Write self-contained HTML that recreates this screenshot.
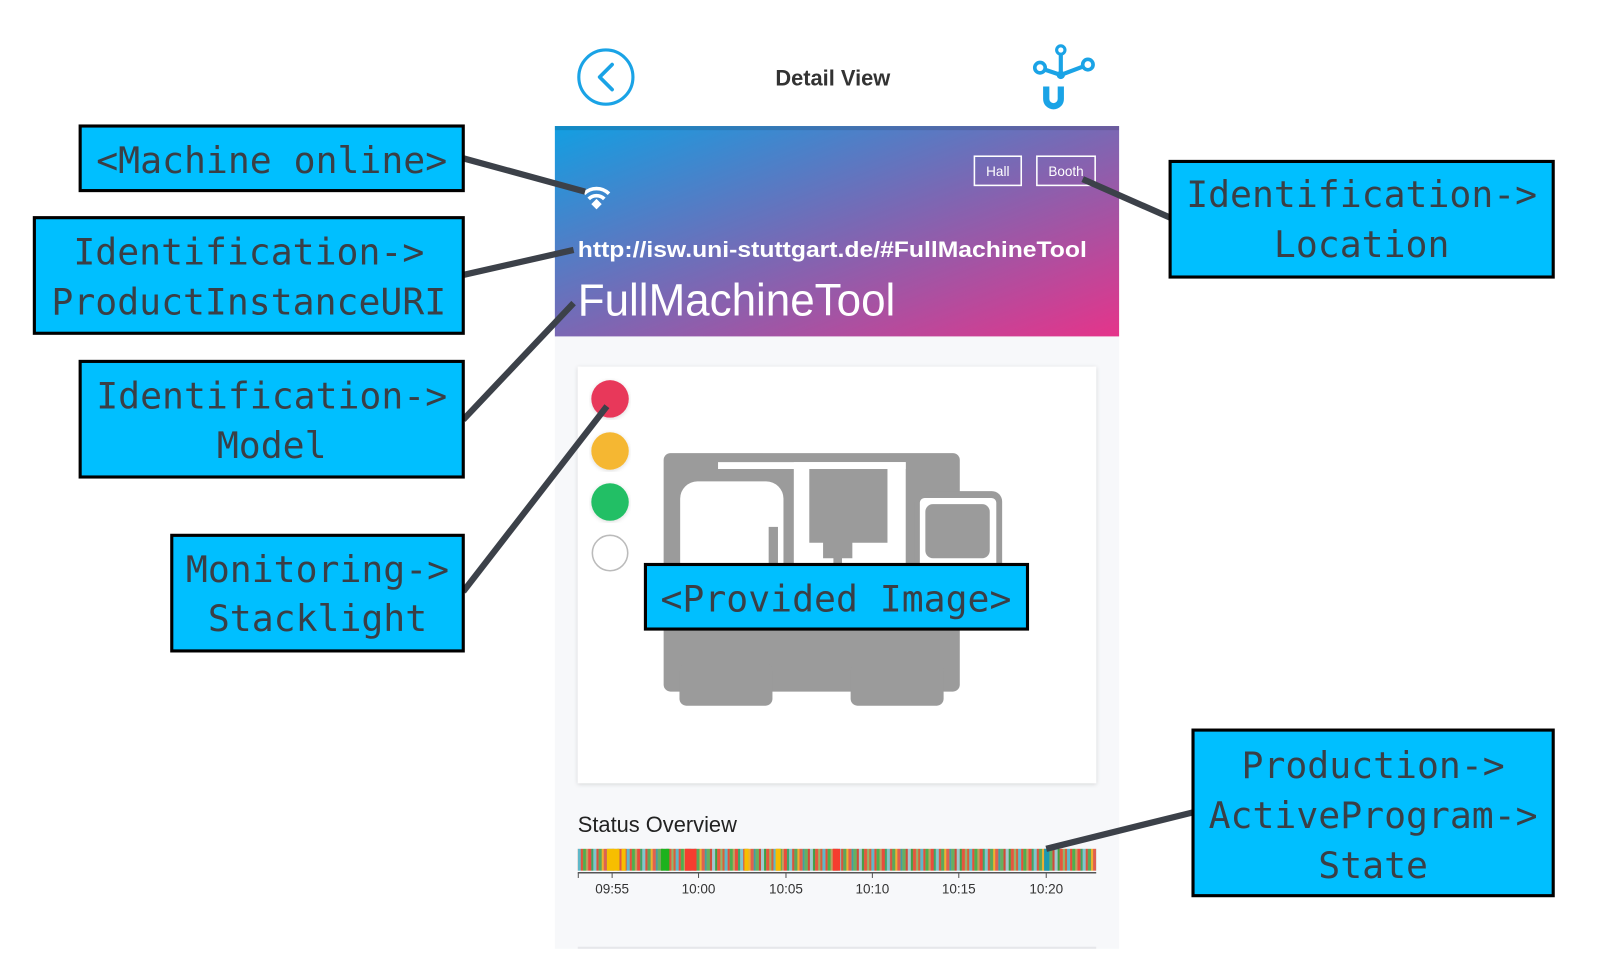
<!DOCTYPE html>
<html><head><meta charset="utf-8"><style>
html,body{margin:0;padding:0;background:#fff;width:1624px;height:954px;overflow:hidden}
svg{display:block}
.lb{font-family:"DejaVu Sans Mono","Liberation Mono",monospace;font-size:35px;fill:#3a3f46;text-anchor:middle}
.bx{fill:#00bfff;stroke:#000;stroke-width:3}
.cn{stroke:#3c4149;stroke-width:6;stroke-linecap:butt}
.ax{font-family:"Liberation Sans",sans-serif;font-size:13px;fill:#333;text-anchor:middle}
</style></head><body>
<svg width="1624" height="954" viewBox="0 0 1560 916" preserveAspectRatio="none">
<defs>
<linearGradient id="hg" x1="0" y1="0" x2="1" y2="1">
<stop offset="0" stop-color="#129fe2"/><stop offset="0.5" stop-color="#7a68b4"/><stop offset="1" stop-color="#e5348a"/>
</linearGradient>
<pattern id="st" x="555" y="0" width="47" height="30" patternUnits="userSpaceOnUse">
<rect width="47" height="30" fill="#e8a23a"/>
<rect x="0" width="3" height="30" fill="#5fb8c9"/><rect x="3" width="2" height="30" fill="#e74c3c"/>
<rect x="5" width="3" height="30" fill="#4caf50"/><rect x="8" width="2" height="30" fill="#c0a060"/>
<rect x="10" width="3" height="30" fill="#e84c3d"/><rect x="13" width="2" height="30" fill="#3aa66a"/>
<rect x="15" width="3" height="30" fill="#7fc5d0"/><rect x="18" width="2" height="30" fill="#d85040"/>
<rect x="20" width="3" height="30" fill="#5aa85c"/><rect x="23" width="2" height="30" fill="#f0b030"/>
<rect x="25" width="3" height="30" fill="#e06050"/><rect x="28" width="2" height="30" fill="#40a0a0"/>
<rect x="30" width="3" height="30" fill="#66b060"/><rect x="33" width="2" height="30" fill="#d04a3a"/>
<rect x="35" width="3" height="30" fill="#a0c8d0"/><rect x="38" width="2" height="30" fill="#38a048"/>
<rect x="40" width="3" height="30" fill="#e5563f"/><rect x="43" width="2" height="30" fill="#8fb870"/>
<rect x="45" width="2" height="30" fill="#d9603a"/>
</pattern>
<filter id="sh" x="-5%" y="-5%" width="110%" height="110%"><feDropShadow dx="0" dy="1" stdDeviation="2" flood-opacity="0.15"/></filter>
</defs>

<!-- top bar -->
<circle cx="582" cy="74" r="26" fill="none" stroke="#1aa3e6" stroke-width="3"/>
<polyline points="588,62 576,74 588,86" fill="none" stroke="#1aa3e6" stroke-width="3.5" stroke-linecap="round" stroke-linejoin="round"/>
<text x="800" y="82" font-family="Liberation Sans,sans-serif" font-weight="bold" font-size="21" fill="#333" text-anchor="middle">Detail View</text>
<g stroke="#1aa3e6" fill="none" stroke-width="4">
<line x1="1019" y1="72" x2="1019" y2="52"/><line x1="1019" y1="72" x2="1004" y2="67"/><line x1="1019" y1="72" x2="1040" y2="64"/>
<circle cx="1019" cy="48" r="4" stroke-width="3"/><circle cx="999" cy="65" r="5" stroke-width="3.5"/><circle cx="1045" cy="62" r="5" stroke-width="3.5"/>
<path d="M1005,83 V95 a7,7 0 0 0 14,0 V83" stroke-width="6"/>
</g>
<circle cx="1019" cy="72" r="4" fill="#1aa3e6"/>

<!-- body -->
<rect x="533" y="121" width="542" height="790" fill="#f7f8fa"/>
<rect x="533" y="121" width="542" height="202" fill="url(#hg)"/>
<rect x="533" y="121" width="542" height="4" fill="#000" opacity="0.12"/>
<rect x="936" y="150" width="45" height="28" fill="none" stroke="#fff" stroke-width="1.5"/>
<text x="958.5" y="169" font-family="Liberation Sans,sans-serif" font-size="13" fill="#fff" text-anchor="middle">Hall</text>
<rect x="996" y="150" width="56" height="28" fill="none" stroke="#fff" stroke-width="1.5"/>
<text x="1024" y="169" font-family="Liberation Sans,sans-serif" font-size="13" fill="#fff" text-anchor="middle">Booth</text>
<g fill="none" stroke="#fff" stroke-width="3.5">
<path d="M561,186 a17,17 0 0 1 24,0"/><path d="M565.5,191 a10.5,10.5 0 0 1 15,0"/>
</g>
<path d="M568,196 l5,-5 l5,5 l-5,5 z" fill="#fff"/>
<text x="555" y="247" font-family="Liberation Sans,sans-serif" font-weight="bold" font-size="21" fill="#fff" textLength="489" lengthAdjust="spacingAndGlyphs">http://isw.uni-stuttgart.de/#FullMachineTool</text>
<text x="555" y="303" font-family="Liberation Sans,sans-serif" font-size="44" fill="#fff" textLength="305" lengthAdjust="spacingAndGlyphs">FullMachineTool</text>

<rect x="555" y="352" width="498" height="400" fill="#fff" filter="url(#sh)"/>
<circle cx="586" cy="383" r="18" fill="#e8385a" filter="url(#sh)"/>
<circle cx="586" cy="433" r="18" fill="#f5b731" filter="url(#sh)"/>
<circle cx="586" cy="482" r="18" fill="#21bf65" filter="url(#sh)"/>
<circle cx="586" cy="531" r="17" fill="#fff" stroke="#bbb" stroke-width="1.5"/>

<g transform="translate(547.5,345.8) scale(0.3308)" fill="#9b9b9b">
<rect x="272" y="270" width="860" height="692" rx="20"/>
<rect x="318" y="880" width="270" height="123" rx="20"/>
<rect x="815" y="880" width="270" height="123" rx="20"/>
<rect x="1000" y="380" width="255" height="300" rx="30"/>
<rect x="1016" y="400" width="222" height="280" rx="14" fill="#fff"/>
<rect x="1032" y="418" width="187" height="157" rx="22"/>
<rect x="430" y="296" width="545" height="20" fill="#fff"/>
<rect x="650" y="296" width="325" height="320" fill="#fff"/>
<rect x="695" y="316" width="227" height="214"/>
<rect x="735" y="520" width="85" height="55"/>
<rect x="765" y="570" width="25" height="46"/>
<path d="M320,616 V402 a50,50 0 0 1 50,-50 H570 a50,50 0 0 1 50,50 V616 z" fill="#fff"/>
<rect x="577" y="484" width="27" height="132"/>
</g>

<text x="555" y="799" font-family="Liberation Sans,sans-serif" font-size="21" fill="#222">Status Overview</text>
<rect x="555" y="815" width="498" height="21" fill="url(#st)"/>
<rect x="583" y="815" width="12" height="21" fill="#f7be00"/>
<rect x="597" y="815" width="4" height="21" fill="#f7be00"/>
<rect x="635" y="815" width="8" height="21" fill="#1db31d"/>
<rect x="658" y="815" width="11" height="21" fill="#f53d2f"/>
<rect x="715" y="815" width="4" height="21" fill="#f7be00"/>
<rect x="745" y="815" width="5" height="21" fill="#f7be00"/>
<rect x="800" y="815" width="7" height="21" fill="#f53d2f"/>
<rect x="1003" y="815" width="5" height="21" fill="#1a9ab0"/>
<line x1="555" y1="838" x2="1053" y2="838" stroke="#555" stroke-width="1.5"/>
<g stroke="#555" stroke-width="1">
<line x1="555.5" y1="838" x2="555.5" y2="843"/><line x1="588" y1="838" x2="588" y2="843"/><line x1="671" y1="838" x2="671" y2="843"/><line x1="755" y1="838" x2="755" y2="843"/><line x1="838" y1="838" x2="838" y2="843"/><line x1="921" y1="838" x2="921" y2="843"/><line x1="1005" y1="838" x2="1005" y2="843"/>
</g>
<text class="ax" x="588" y="858">09:55</text><text class="ax" x="671" y="858">10:00</text><text class="ax" x="755" y="858">10:05</text>
<text class="ax" x="838" y="858">10:10</text><text class="ax" x="921" y="858">10:15</text><text class="ax" x="1005" y="858">10:20</text>
<rect x="555" y="909" width="498" height="2" fill="#e6e7ea"/>

<!-- connectors -->
<line class="cn" x1="445" y1="152" x2="562" y2="184"/>
<line class="cn" x1="445" y1="264" x2="551" y2="240"/>
<line class="cn" x1="445" y1="403" x2="551" y2="291"/>
<line class="cn" x1="445" y1="568" x2="583" y2="390"/>
<line class="cn" x1="1124" y1="209" x2="1040" y2="172"/>
<line class="cn" x1="1146" y1="780" x2="1005" y2="815"/>

<!-- labels -->
<rect class="bx" x="77" y="121" width="368" height="62"/>
<text class="lb" x="261" y="166">&lt;Machine online&gt;</text>
<rect class="bx" x="33" y="209" width="412" height="111"/>
<text class="lb" x="239" y="254">Identification-&gt;</text>
<text class="lb" x="239" y="302">ProductInstanceURI</text>
<rect class="bx" x="77" y="347" width="368" height="111"/>
<text class="lb" x="261" y="392">Identification-&gt;</text>
<text class="lb" x="261" y="440">Model</text>
<rect class="bx" x="165" y="514" width="280" height="111"/>
<text class="lb" x="305" y="559">Monitoring-&gt;</text>
<text class="lb" x="305" y="606">Stacklight</text>
<rect class="bx" x="1124" y="155" width="368" height="111"/>
<text class="lb" x="1308" y="199">Identification-&gt;</text>
<text class="lb" x="1308" y="247">Location</text>
<rect class="bx" x="620" y="542" width="367" height="62"/>
<text class="lb" x="803" y="587">&lt;Provided Image&gt;</text>
<rect class="bx" x="1146" y="701" width="346" height="159"/>
<text class="lb" x="1319" y="747">Production-&gt;</text>
<text class="lb" x="1319" y="795">ActiveProgram-&gt;</text>
<text class="lb" x="1319" y="843">State</text>
</svg>
</body></html>
